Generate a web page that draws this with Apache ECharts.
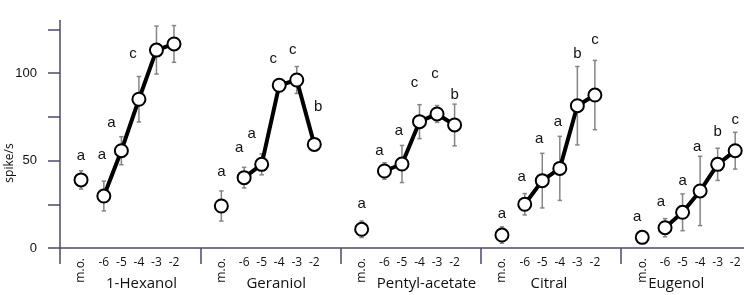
<!DOCTYPE html>
<html><head><meta charset="utf-8">
<script src="https://cdn.jsdelivr.net/npm/echarts@6/dist/echarts.min.js"></script>
<style>html,body{margin:0;padding:0;background:#fff}#c{width:744px;height:295px}</style>
</head><body><div id="c"></div>
<script>
// ---- data ----
const groups = ['1-Hexanol', 'Geraniol', 'Pentyl-acetate', 'Citral', 'Eugenol'];
const levels = ['m.o.', '-6', '-5', '-4', '-3', '-2'];
const yTicks = [0, 25, 50, 75, 100, 125];
const yLabels = [0, 50, 100];

const hexanolMean  = [38.9, 29.7, 55.6, 85.0, 113.1, 116.6];
const geraniolMean = [24.0, 40.2, 47.8, 93.0, 96.0, 59.2];
const pentylMean   = [10.7, 44.0, 48.0, 72.2, 76.6, 70.3];
const citralMean   = [7.4, 25.0, 38.5, 45.5, 81.3, 87.4];
const eugenolMean  = [6.1, 11.6, 20.4, 32.6, 47.8, 55.6];

const hexanolErr  = [5.2, 8.5, 8.0, 13.0, 13.7, 10.5];
const geraniolErr = [8.6, 5.9, 6.0, 3.2, 7.7, 2.9];
const pentylErr   = [4.7, 4.7, 10.6, 9.7, 4.8, 11.9];
const citralErr   = [4.7, 6.1, 15.6, 18.3, 22.4, 19.8];
const eugenolErr  = [0, 5.2, 10.5, 19.8, 9.2, 10.5];

const hexanolLetters  = ['a', 'a', 'a', 'c', 'c', 'c'];
const geraniolLetters = ['a', 'a', 'a', 'c', 'c', 'b'];
const pentylLetters   = ['a', 'a', 'a', 'c', 'c', 'b'];
const citralLetters   = ['a', 'a', 'a', 'a', 'b', 'c'];
const eugenolLetters  = ['a', 'a', 'a', 'a', 'b', 'c'];

const hexanolLetterY  = [52.6, 53.1, 71.6, 110.7, 137.5, 138.5];
const geraniolLetterY = [43.6, 57.0, 65.1, 107.8, 113.1, 80.7];
const pentylLetterY   = [25.0, 55.6, 67.0, 94.5, 99.4, 87.4];
const citralLetterY   = [19.4, 40.8, 62.3, 72.2, 111.2, 119.2];
const eugenolLetterY  = [17.9, 26.1, 38.5, 57.9, 66.1, 73.1];

const means = [hexanolMean, geraniolMean, pentylMean, citralMean, eugenolMean];
const errs = [hexanolErr, geraniolErr, pentylErr, citralErr, eugenolErr];
const letters = [hexanolLetters, geraniolLetters, pentylLetters, citralLetters, eugenolLetters];
const letterY = [hexanolLetterY, geraniolLetterY, pentylLetterY, citralLetterY, eugenolLetterY];

// ---- layout (slot positions within a group, in axis units) ----
const GROUP_W = 8;
const levelPos = [1.2, 2.5, 3.5, 4.5, 5.5, 6.5];
const groupNamePos = [4.65, 4.33, 4.9, 3.88, 3.14];
const letterShift = [[0,-2,-10,-6,0,0],[0,-5,-10,-6,-4,4],[0,-5,-3,-5,-2,0],[0,-3,-3,-2,0,0],[-5,-4,0,-3,0,0]];

const AX = '#4a4a70';
const TXT = '#111';
const xOf = (g, i) => g * GROUP_W + levelPos[i];

const labelMap = {};
const levelTickVals = [], moTickVals = [], nameVals = [], sepVals = [];
groups.forEach((gname, g) => {
  sepVals.push(g * GROUP_W);
  nameVals.push(g * GROUP_W + groupNamePos[g]);
  labelMap[(g * GROUP_W + groupNamePos[g]).toFixed(3)] = gname;
  levels.forEach((lv, i) => {
    const v = xOf(g, i);
    labelMap[v.toFixed(3)] = lv;
    if (i === 0) moTickVals.push(v); else levelTickVals.push(v);
  });
});
sepVals.push(groups.length * GROUP_W);
const fmt = v => labelMap[Number(v).toFixed(3)] || '';

const errData = [];
const moData = [];
const letterData = [];
const series = [];

groups.forEach((gname, g) => {
  levels.forEach((lv, i) => {
    const m = means[g][i], e = errs[g][i];
    if (e > 0) errData.push([xOf(g, i), m - e, m + e]);
    letterData.push({
      name: letters[g][i],
      value: [xOf(g, i), letterY[g][i]],
      label: { offset: [letterShift[g][i], 0] }
    });
  });
  moData.push([xOf(g, 0), means[g][0]]);
  series.push({
    type: 'line',
    z: 4,
    data: levels.slice(1).map((lv, k) => [xOf(g, k + 1), means[g][k + 1]]),
    lineStyle: { color: '#000', width: 4 },
    symbol: 'circle', symbolSize: 13,
    itemStyle: { color: '#fff', borderColor: '#000', borderWidth: 2, opacity: 1 },
    emphasis: { disabled: true },
    animation: false
  });
});

series.unshift({
  type: 'custom',
  z: 2,
  data: errData,
  encode: { x: 0, y: [1, 2] },
  renderItem: function (params, api) {
    const x = api.value(0);
    const pLo = api.coord([x, api.value(1)]);
    const pHi = api.coord([x, api.value(2)]);
    const st = { stroke: '#858585', lineWidth: 1.5 };
    const c = 2.2;
    return { type: 'group', children: [
      { type: 'line', shape: { x1: pLo[0], y1: pLo[1], x2: pHi[0], y2: pHi[1] }, style: st },
      { type: 'line', shape: { x1: pLo[0] - c, y1: pLo[1], x2: pLo[0] + c, y2: pLo[1] }, style: st },
      { type: 'line', shape: { x1: pHi[0] - c, y1: pHi[1], x2: pHi[0] + c, y2: pHi[1] }, style: st }
    ]};
  },
  animation: false
});

series.push({
  type: 'scatter',
  z: 4,
  data: moData,
  symbol: 'circle', symbolSize: 13,
  itemStyle: { color: '#fff', borderColor: '#000', borderWidth: 2, opacity: 1 },
  emphasis: { disabled: true },
  animation: false
});

series.push({
  type: 'scatter',
  z: 5,
  data: letterData,
  symbolSize: 1,
  itemStyle: { color: 'rgba(0,0,0,0)', opacity: 1 },
  label: {
    show: true, position: 'inside',
    formatter: p => p.name,
    fontFamily: '"Liberation Sans", Arial, sans-serif',
    fontSize: 15, color: TXT, opacity: 1
  },
  emphasis: { disabled: true },
  animation: false
});

const xBase = { type: 'value', position: 'bottom', min: 0, max: groups.length * GROUP_W, splitLine: { show: false } };

const option = {
  animation: false,
  backgroundColor: '#fff',
  grid: { left: 60, right: -17.5, top: 20.5, bottom: 47, containLabel: false, outerBoundsMode: 'none' },
  xAxis: [
    Object.assign({}, xBase, {
      axisLine: { show: true, lineStyle: { color: AX, width: 1.5 } },
      axisTick: { show: true, customValues: sepVals, length: 16, inside: false, lineStyle: { color: AX, width: 1.5 } },
      axisLabel: { show: true, customValues: levelTickVals, formatter: fmt, margin: 9, hideOverlap: false,
        fontFamily: '"Open Sans", sans-serif', fontSize: 12, color: TXT }
    }),
    Object.assign({}, xBase, {
      axisLine: { show: false }, axisTick: { show: false },
      axisLabel: { show: true, customValues: moTickVals, formatter: fmt, rotate: 90, margin: 10,
        fontFamily: '"Open Sans", sans-serif', fontSize: 12, color: TXT }
    }),
    Object.assign({}, xBase, {
      axisLine: { show: false }, axisTick: { show: false },
      axisLabel: { show: true, customValues: nameVals, formatter: fmt, margin: 28,
        fontFamily: '"Open Sans", sans-serif', fontSize: 15, color: TXT }
    })
  ],
  yAxis: {
    type: 'value', min: 0, max: 130,
    splitLine: { show: false },
    axisLine: { show: true, lineStyle: { color: AX, width: 1.5 } },
    axisTick: { show: true, customValues: yTicks, length: 12, inside: false, lineStyle: { color: AX, width: 1.5 } },
    axisLabel: { show: true, customValues: yLabels, margin: 23,
      fontFamily: '"Liberation Sans", Arial, sans-serif', fontSize: 13, color: TXT }
  },
  graphic: [{
    type: 'text', x: 10, y: 163, rotation: Math.PI / 2,
    style: { text: 'spike/s', textAlign: 'center', textVerticalAlign: 'middle',
      font: '12px "Open Sans", sans-serif', fill: TXT }
  }],
  series: series
};

const chart = echarts.init(document.getElementById('c'), null, { renderer: 'canvas' });
chart.setOption(option);
</script>
</body></html>
